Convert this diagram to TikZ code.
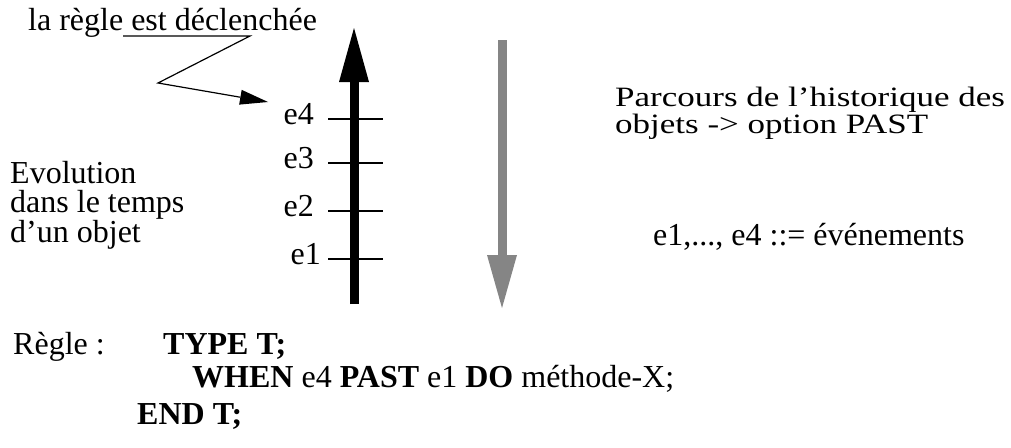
\documentclass[tikz,border=0pt]{standalone}
\usepackage{fontspec}
\setmainfont{Liberation Serif}
\newfontfamily\widefont[FakeStretch=1.25]{Liberation Serif}
\usepackage{xcolor}
\usetikzlibrary{arrows.meta,positioning}
\definecolor{pastgray}{HTML}{858585}
\tikzset{
  timearrow/.style={-{Triangle[length=54pt,width=30pt,line width=0pt]},line width=9pt,black},
  pastarrow/.style={-{Triangle[length=53pt,width=30pt,line width=0pt]},line width=9pt,pastgray},
  tickline/.style={line width=1.4pt},
  callout/.style={line width=1.2pt,-{Triangle[length=28pt,width=15pt,line width=0pt]}},
  lbl/.style={inner sep=0pt,font=\fontsize{32}{29.5}\selectfont},
  widelbl/.style={inner sep=0pt,align=left,font=\widefont\fontsize{28}{27}\selectfont}
}
\begin{document}
\begin{tikzpicture}[x=1pt,y=-1pt]
\useasboundingbox (0,0) rectangle (1011,447);
% time axis of the object and its history
\coordinate (birth) at (354,304);
\coordinate (now) at (354,28);
\draw[timearrow] (birth) -- (now);
\coordinate (histtop) at (502,40);
\coordinate (histend) at (502,308);
\draw[pastarrow] (histtop) -- (histend);
\foreach \i/\y/\dx in {1/259/-7,2/211/-14,3/163/-14,4/119/-14}{
  \coordinate (t\i) at (328,\y);
  \draw[tickline] (t\i) -- ++(55,0);
  \node[lbl,anchor=base east] (e\i) at ([xshift=\dx pt,yshift=-5pt]t\i) {e\i};
}
% callout
\node[lbl,anchor=base west] (rule) at (28,30) {la règle est déclenchée};
\coordinate (ul) at (123,36);
\coordinate (ur) at (250,36);
\coordinate (bend) at (158,83);
\coordinate (hit) at (268,102);
\draw[callout] (ul) -- (ur) -- (bend) -- (hit);
% texts (base = last line)
\node[lbl,align=left,anchor=base west] (evol) at (10,242) {Evolution\\dans le temps\\d’un objet};
\node[widelbl,anchor=base west] (parcours) at (615,133) {Parcours de l’historique des\\objets -> option PAST};
\node[lbl,anchor=base west] (events) at (653,245) {e1,..., e4 ::= événements};
% the rule
\node[lbl,anchor=base west] (regle) at (13,354) {Règle :};
\node[lbl,anchor=base west] (type) at (163,354) {\textbf{TYPE T;}};
\node[lbl,anchor=base west] (when) at (192,387) {\textbf{WHEN} e4 \textbf{PAST} e1 \textbf{DO} méthode-X;};
\node[lbl,anchor=base west] (end) at (137,424) {\textbf{END T;}};
\end{tikzpicture}
\end{document}
